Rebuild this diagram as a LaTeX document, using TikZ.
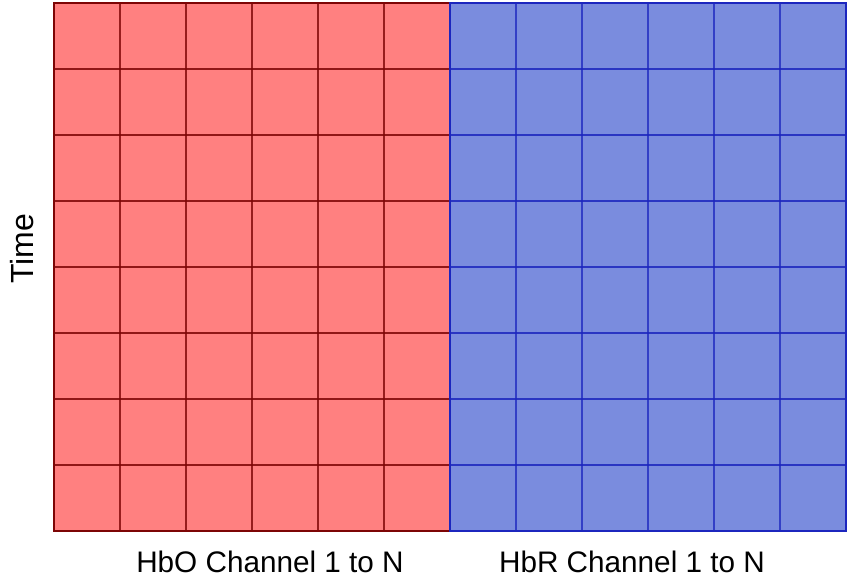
\documentclass[tikz,border=0pt]{standalone}
\usepackage{fontspec}
\setmainfont{Liberation Sans}
\definecolor{redfill}{RGB}{255,128,128}
\definecolor{redline}{RGB}{125,5,5}
\definecolor{bluefill}{RGB}{122,140,222}
\definecolor{blueline}{RGB}{28,38,190}
\begin{document}
\begin{tikzpicture}[x=1pt,y=-1pt,
  gridred/.style={draw=redline,line width=1.6pt},
  gridblue/.style={draw=blueline,line width=1.6pt},
  lbl/.style={font=\fontsize{29.7}{31}\selectfont,inner sep=0pt,anchor=base}]
\useasboundingbox (0,0) rectangle (850,582);
% red block
\fill[redfill] (54,3) rectangle (450,531);
\foreach \i in {1,...,5} \draw[gridred,opacity=0.8] (54+66*\i,3) -- (54+66*\i,531);
\foreach \j in {1,...,7} \draw[gridred,opacity=0.85] (54,3+66*\j) -- (450,3+66*\j);
\draw[gridred,line width=2pt] (54,3) rectangle (450,531);
% blue block
\fill[bluefill] (450,3) rectangle (846,531);
\foreach \i in {1,...,5} \draw[gridblue,opacity=0.75] (450+66*\i,3) -- (450+66*\i,531);
\foreach \j in {1,...,7} \draw[gridblue,opacity=0.85] (450,3+66*\j) -- (846,3+66*\j);
\draw[gridblue,line width=2pt] (450,3) rectangle (846,531);
% labels
\node[lbl] (hbo) at (270,572) {HbO Channel 1 to N};
\node[lbl] (hbr) at (632,572) {HbR Channel 1 to N};
\node[lbl,font=\fontsize{32}{34}\selectfont,rotate=90,anchor=base] (time) at (33,249) {Time};
\end{tikzpicture}
\end{document}
